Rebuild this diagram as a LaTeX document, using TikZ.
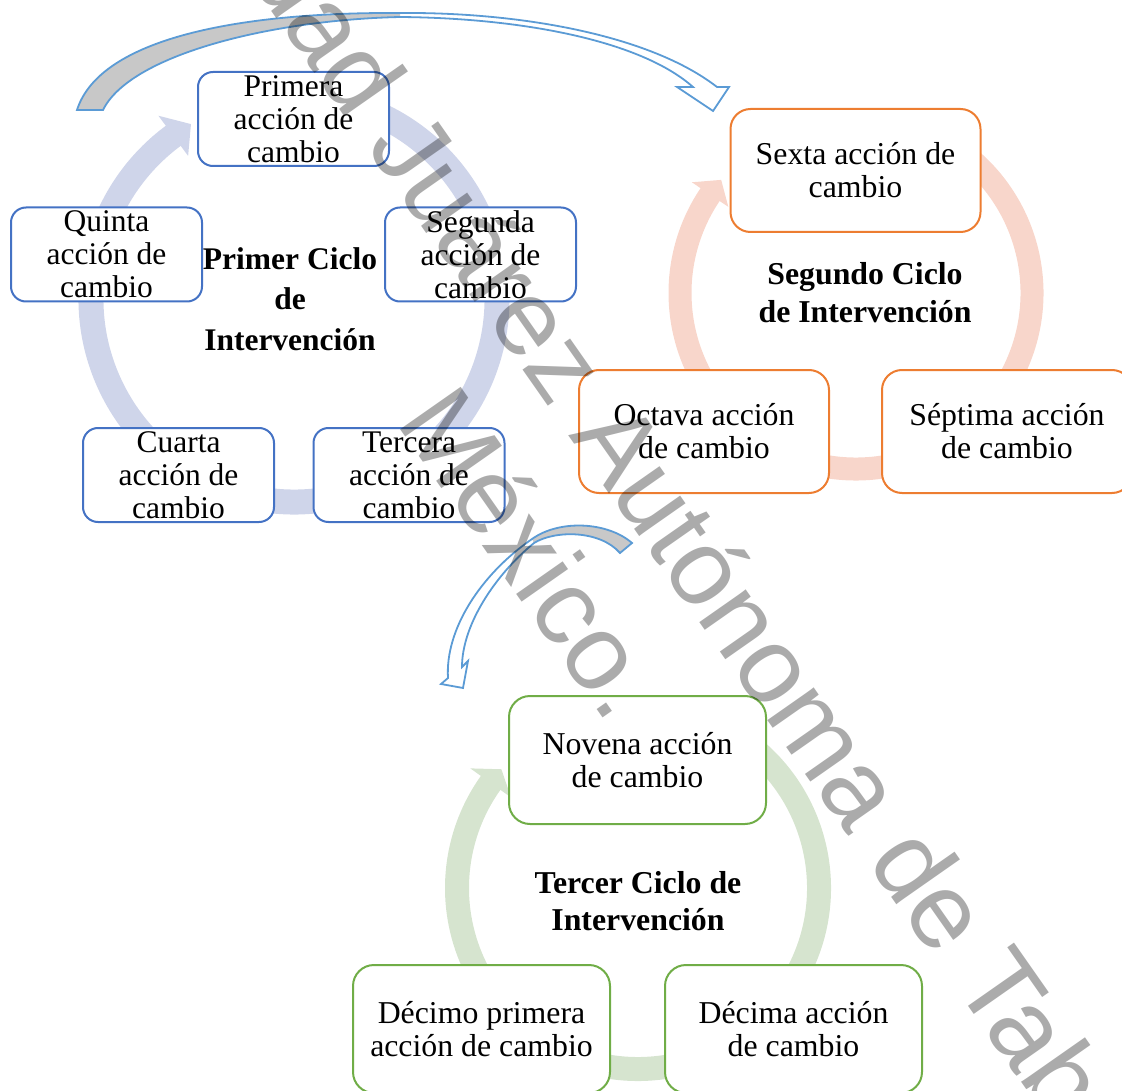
\documentclass[tikz,border=0pt]{standalone}
\usepackage{fontspec}
\setmainfont{Liberation Serif}
\newfontfamily\wmfont{Liberation Sans}
\definecolor{bblue}{HTML}{4472C4}
\definecolor{borange}{HTML}{ED7D31}
\definecolor{bgreen}{HTML}{70AD47}
\definecolor{ringA}{HTML}{CFD5EA}
\definecolor{ringB}{HTML}{F8D6CB}
\definecolor{ringC}{HTML}{D6E4CF}
\definecolor{arrowblue}{HTML}{5B9BD5}
\definecolor{agray}{HTML}{C8C8C8}
\tikzset{
  boxA/.style={draw=bblue, line width=2pt, fill=white, rounded corners=15pt,
    minimum width=191pt, minimum height=94pt, inner sep=0pt, align=center,
    font=\fontsize{31.5}{33}\selectfont},
  boxB/.style={draw=borange, line width=2pt, fill=white, rounded corners=20pt,
    minimum width=250pt, minimum height=123pt, inner sep=0pt, align=center,
    font=\fontsize{31.8}{33}\selectfont},
  boxC/.style={draw=bgreen, line width=2pt, fill=white, rounded corners=21pt,
    minimum width=257pt, minimum height=128pt, inner sep=0pt, align=center,
    font=\fontsize{31.8}{33}\selectfont},
  lbl/.style={inner sep=0pt, align=center},
  bigarrow/.style={draw=arrowblue, line width=1.8pt, line join=miter},
  wm/.style={font=\wmfont\fontsize{107.5}{134}\selectfont, text=black,
    text opacity=0.33, inner sep=0pt, rotate=-55},
}
\begin{document}
\begin{tikzpicture}[x=1pt, y=-1pt]
\useasboundingbox (0,0) rectangle (1122,1091);
\clip (0,0) rectangle (1122,1091);

% ---- ring centres
\coordinate (c1) at (294,299);
\coordinate (c2) at (856,293);
\coordinate (c3) at (638,888);

% ---- ring 1 (blue)
\draw[ringA, line width=25pt] ([shift={(c1)}]-75:203) arc[start angle=-75, end angle=234, radius=203];
\fill[ringA] ([shift={(c1)}]233.5:228) -- ([shift={(c1)}]239.5:203) -- ([shift={(c1)}]233.5:178) -- cycle;

% ---- ring 2 (orange)
\draw[ringB, line width=23pt] ([shift={(c2)}]-60:176) arc[start angle=-60, end angle=214.5, radius=176];
\fill[ringB] ([shift={(c2)}]214:198) -- ([shift={(c2)}]220:176) -- ([shift={(c2)}]214:154) -- cycle;

% ---- ring 3 (green)
\draw[ringC, line width=24pt] ([shift={(c3)}]-60:181) arc[start angle=-60, end angle=216, radius=181];
\fill[ringC] ([shift={(c3)}]215.5:206) -- ([shift={(c3)}]221:181) -- ([shift={(c3)}]215.5:156) -- cycle;

% ---- first cycle boxes
\node[boxA] (p1) at (293.5,119) {Primera\\acción de\\cambio};
\node[boxA] (p5) at (106.5,254.5) {Quinta\\acción de\\cambio};
\node[boxA] (p2) at (480.5,254.5) {Segunda\\acción de\\cambio};
\node[boxA] (p4) at (178.5,475) {Cuarta\\acción de\\cambio};
\node[boxA] (p3) at (409,475) {Tercera\\acción de\\cambio};
\node[lbl, font=\bfseries\fontsize{31.5}{40.5}\selectfont] (l1) at (290,299) {Primer Ciclo\\de\\Intervención};

% ---- second cycle boxes
\node[boxB] (s6) at (855.5,170.5) {Sexta acción de\\cambio};
\node[boxB] (s8) at (704,431.5) {Octava acción\\de cambio};
\node[boxB] (s7) at (1007,431.5) {Séptima acción\\de cambio};
\node[lbl, font=\bfseries\fontsize{31.8}{38}\selectfont] (l2) at (865,293) {Segundo Ciclo\\de Intervención};

% ---- third cycle boxes
\node[boxC] (t9) at (637.5,760) {Novena acción\\de cambio};
\node[boxC] (t11) at (481.5,1029) {Décimo primera\\acción de cambio};
\node[boxC] (t10) at (793.5,1029) {Décima acción\\de cambio};
\node[lbl, font=\bfseries\fontsize{31.8}{37}\selectfont] (l3) at (638,901) {Tercer Ciclo de\\Intervención};

% ---- top curved arrow
\fill[white] (400,13) .. controls (520,12) and (650,35) .. (717,87) -- (729,87) -- (713,111) -- (677,87) -- (693,87) .. controls (640,40) and (520,18) .. (400,17) -- cycle;
\fill[agray] (77,110) .. controls (100,38) and (240,12) .. (400,13) -- (400,17) .. controls (270,20) and (130,55) .. (103,110) -- cycle;
\draw[bigarrow] (77,110) .. controls (100,38) and (240,12) .. (400,13) .. controls (520,12) and (650,35) .. (717,87) -- (729,87) -- (713,111) -- (677,87) -- (693,87) .. controls (640,40) and (520,18) .. (400,17) .. controls (270,20) and (130,55) .. (103,110) -- cycle;

% ---- middle curved arrow
\fill[white] (532,539) .. controls (480,575) and (445,630) .. (448,678) -- (441,684) -- (463,688) -- (468,661) -- (462,667) .. controls (462,625) and (495,575) .. (534,543) -- cycle;
\fill[agray] (632,543) .. controls (608,522) and (560,519) .. (532,539) -- (534,543) .. controls (555,530) and (600,530) .. (620,553) -- cycle;
\draw[bigarrow] (632,543) .. controls (608,522) and (560,519) .. (532,539) .. controls (480,575) and (445,630) .. (448,678) -- (441,684) -- (463,688) -- (468,661) -- (462,667) .. controls (462,625) and (495,575) .. (534,543) .. controls (555,530) and (600,530) .. (620,553) -- cycle;

% ---- watermark
\node[wm, anchor=base west] (wm1) at (23.3,-342.9) {Universidad Juárez Autónoma de Tabasco};
\node[wm, anchor=base west] (wm2) at (395.8,422.4) {México.};
\end{tikzpicture}
\end{document}
